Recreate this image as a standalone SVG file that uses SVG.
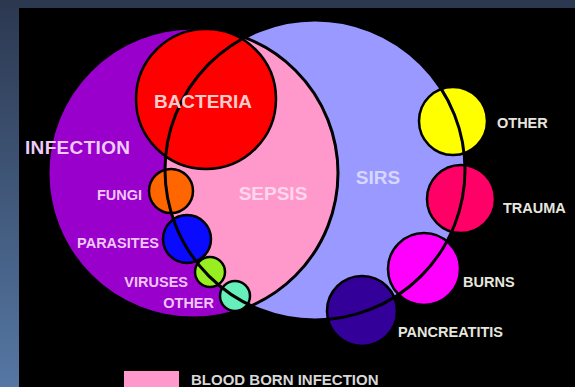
<svg xmlns="http://www.w3.org/2000/svg" width="575" height="387" viewBox="0 0 575 387">
  <defs>
    <linearGradient id="bg" x1="0" y1="0" x2="0" y2="1">
      <stop offset="0" stop-color="#2c3850"/>
      <stop offset="1" stop-color="#5577a3"/>
    </linearGradient>
    <clipPath id="infClip"><circle cx="193" cy="173" r="145"/></clipPath>
  </defs>
  <style>
    .lbl { font-family: "Liberation Sans", Arial, sans-serif; font-weight: bold; }
    .big { font-size: 19px; }
    .sm { font-size: 14.5px; }
    .lft { fill: #efc6f6; text-anchor: end; }
    .rgt { fill: #e6e6df; }
    .edge { fill: none; stroke: #000; stroke-width: 3; }
    .dot { stroke: #000; stroke-width: 2.5; }
  </style>
  <rect x="0" y="0" width="575" height="387" fill="url(#bg)"/>
  <rect x="0" y="0" width="575" height="8" fill="#2c3850"/>
  <rect x="19" y="8" width="556" height="379" fill="#000"/>

  <g id="infection">
    <circle cx="193" cy="173" r="145" fill="#9900cc"/>
  </g>
  <g id="sirs">
    <circle cx="315" cy="170" r="150" fill="#9999ff"/>
  </g>
  <g id="sepsis">
    <circle cx="315" cy="170" r="150" fill="#ff99cc" clip-path="url(#infClip)"/>
    <circle cx="193" cy="173" r="145" class="edge"/>
  </g>

  <g id="bacteria"><circle cx="206" cy="99" r="70" fill="#ff0000" class="dot"/></g>
  <g id="fungi"><circle cx="171" cy="191" r="22" fill="#ff6600" class="dot"/></g>
  <g id="parasites"><circle cx="187" cy="239" r="24" fill="#0a0aff" class="dot"/></g>
  <g id="viruses"><circle cx="210" cy="272" r="15" fill="#99ee22" class="dot"/></g>
  <g id="other-inf"><circle cx="235" cy="296" r="15" fill="#66eebb" class="dot"/></g>
  <g id="other-sirs"><circle cx="453" cy="121" r="34" fill="#ffff00" class="dot"/></g>
  <g id="trauma"><circle cx="461" cy="199" r="34" fill="#ff0066" class="dot"/></g>
  <g id="burns"><circle cx="424" cy="269" r="36" fill="#ff00ff" class="dot"/></g>
  <g id="pancreatitis"><circle cx="362" cy="311" r="35" fill="#330099" class="dot"/></g>

  <g id="connectors">
    <circle cx="315" cy="170" r="150" class="edge"/>
  </g>

  <g id="labels">
    <text class="lbl big" x="25" y="154" fill="#eecbf8" textLength="105">INFECTION</text>
    <text class="lbl big" x="203" y="108" fill="#ffcccc" text-anchor="middle">BACTERIA</text>
    <text class="lbl big" x="273" y="200" fill="#ffd6ee" text-anchor="middle">SEPSIS</text>
    <text class="lbl big" x="378" y="184" fill="#d6d6ff" text-anchor="middle">SIRS</text>
    <text class="lbl sm lft" x="142" y="200">FUNGI</text>
    <text class="lbl sm lft" x="159" y="248">PARASITES</text>
    <text class="lbl sm lft" x="188" y="287">VIRUSES</text>
    <text class="lbl sm lft" x="214" y="308">OTHER</text>
    <text class="lbl sm rgt" x="497" y="128">OTHER</text>
    <text class="lbl sm rgt" x="503" y="213">TRAUMA</text>
    <text class="lbl sm rgt" x="463" y="287">BURNS</text>
    <text class="lbl sm rgt" x="398" y="337">PANCREATITIS</text>
  </g>

  <g id="legend">
    <rect x="124" y="371" width="55" height="16" fill="#ff99cc"/>
    <text class="lbl" x="191" y="385" font-size="15" fill="#d8d8d8">BLOOD BORN INFECTION</text>
  </g>
</svg>
